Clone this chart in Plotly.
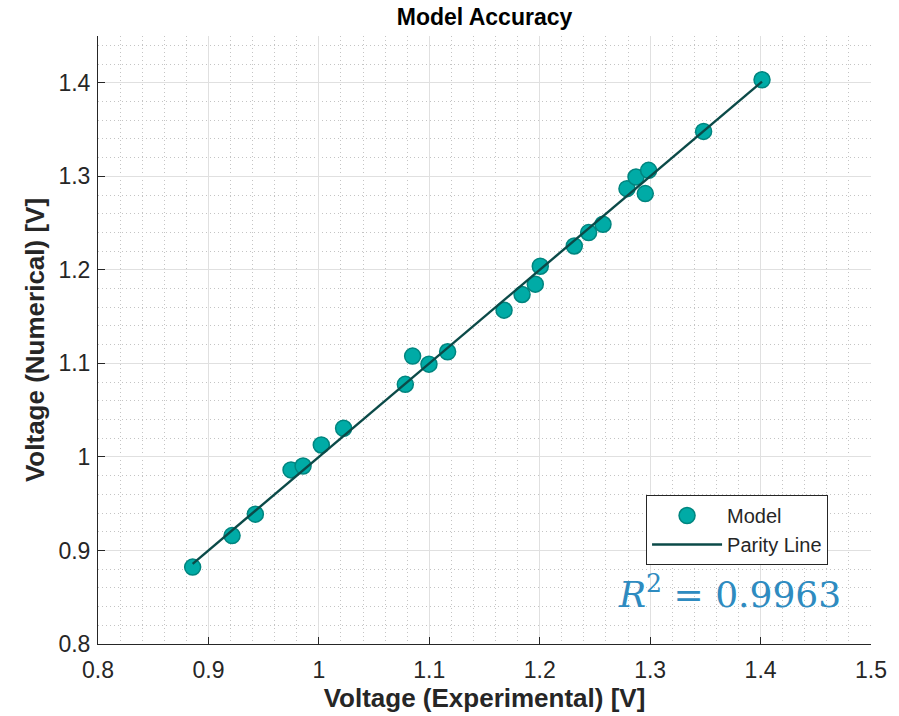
import plotly.graph_objects as go

# Measured vs. simulated cell voltage
v_experimental = [0.8857, 0.9214, 0.9425, 0.9748, 0.9857, 1.0022, 1.0224,
                  1.0783, 1.0849, 1.0997, 1.1166, 1.1677, 1.1840, 1.1960,
                  1.2005, 1.2313, 1.2443, 1.2573, 1.2790, 1.2872, 1.2956,
                  1.2986, 1.3484, 1.4013]
v_numerical = [0.8822, 0.9159, 0.9388, 0.9861, 0.9903, 1.0128, 1.0306,
               1.0776, 1.1078, 1.0992, 1.1124, 1.1569, 1.1737, 1.1847,
               1.2039, 1.2255, 1.2398, 1.2487, 1.2868, 1.2992, 1.2815,
               1.3064, 1.3480, 1.4032]

# Parity line y = x spanning the measured range
parity = [min(v_experimental), max(v_experimental)]

x_ticks = [0.8, 0.9, 1.0, 1.1, 1.2, 1.3, 1.4, 1.5]
x_tick_text = ["0.8", "0.9", "1", "1.1", "1.2", "1.3", "1.4", "1.5"]
y_ticks = [0.8, 0.9, 1.0, 1.1, 1.2, 1.3, 1.4]
y_tick_text = ["0.8", "0.9", "1", "1.1", "1.2", "1.3", "1.4"]

r_squared = 0.9963

W, H = 899, 716
M = dict(l=98, r=28, t=36, b=72)
FONT = "Liberation Sans, Arial, Helvetica"

fig = go.Figure()

fig.add_trace(go.Scatter(
    x=v_experimental, y=v_numerical, mode="markers", name="Model",
    marker=dict(size=16, color="#00ABA6",
                line=dict(color="#00857F", width=1.5)),
))
fig.add_trace(go.Scatter(
    x=parity, y=parity, mode="lines", name="Parity Line",
    line=dict(color="#0B4A48", width=2.4),
))

axis_common = dict(
    showline=True, linecolor="#262626", linewidth=1,
    ticks="inside", ticklen=7, tickcolor="#262626", tickwidth=1,
    showgrid=True, gridcolor="#E0E0E0", gridwidth=1,
    zeroline=False, mirror=False,
    tickfont=dict(family=FONT, size=23, color="#262626"),
    minor=dict(showgrid=True, gridcolor="#C4C4C4", griddash="1px,3px",
               gridwidth=1, ticks=""),
)

fig.update_xaxes(
    range=[0.8, 1.5], tickvals=x_ticks, ticktext=x_tick_text,
    minor_dtick=0.02, ticklabelstandoff=5,
    title=dict(text="<b>Voltage (Experimental) [V]</b>", standoff=2,
               font=dict(family=FONT, size=26, color="#262626")),
    **axis_common,
)
fig.update_yaxes(
    range=[0.8, 1.45], tickvals=y_ticks, ticktext=y_tick_text,
    minor_dtick=0.02, ticklabelstandoff=2,
    title=dict(text="<b>Voltage (Numerical) [V]</b>", standoff=6,
               font=dict(family=FONT, size=26, color="#262626")),
    **axis_common,
)

fig.update_layout(
    width=W, height=H, margin=M,
    paper_bgcolor="white", plot_bgcolor="white",
    title=dict(text="<b>Model Accuracy</b>", x=0.5 * (98 + 871) / W,
               xanchor="center", y=1 - 17 / H, yanchor="middle",
               font=dict(family=FONT, size=23, color="black")),
    legend=dict(
        x=0.709, y=0.245, xanchor="left", yanchor="top",
        bgcolor="white", bordercolor="#262626", borderwidth=1,
        font=dict(family=FONT, size=20, color="#262626"),
        itemwidth=70, tracegroupgap=0,
    ),
    showlegend=True,
)

fig.add_annotation(
    x=0.964, y=0.0855, xref="paper", yref="paper",
    xanchor="right", yanchor="middle", showarrow=False,
    text="<i>R</i><sup>2</sup> = " + f"{r_squared:.4f}",
    font=dict(family="DejaVu Serif, Liberation Serif", size=36,
              color="#2E8BC0"),
)

fig.write_html("out.html")
